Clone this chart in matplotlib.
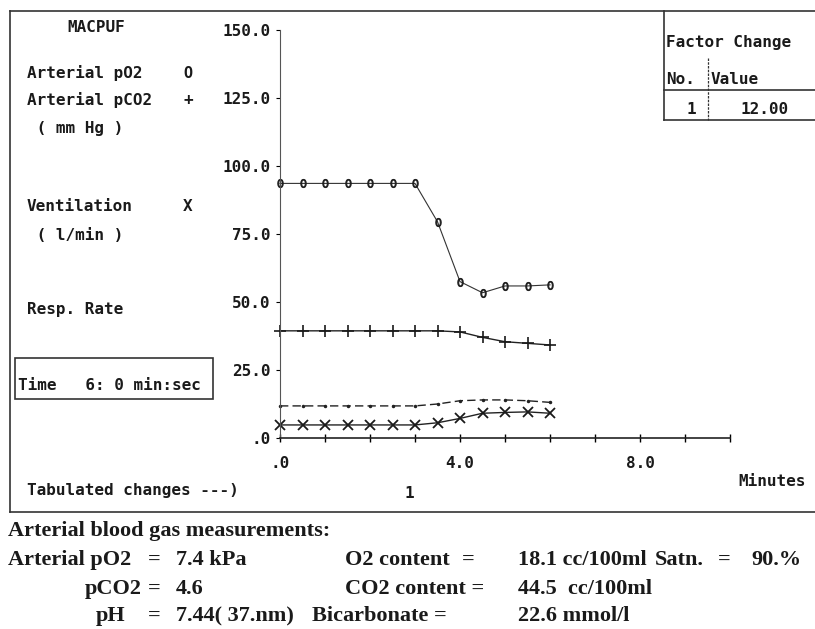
import matplotlib
matplotlib.use('Agg')
import matplotlib.pyplot as plt
from matplotlib.lines import Line2D
from matplotlib.patches import Rectangle

# simulation output, one sample every half minute
minutes = [0.0, 0.5, 1.0, 1.5, 2.0, 2.5, 3.0, 3.5, 4.0, 4.5, 5.0, 5.5, 6.0]
po2 = [93.6, 93.6, 93.6, 93.6, 93.6, 93.6, 93.6, 79.5, 57.5, 53.4, 55.9, 55.9, 56.3]
pco2 = [39.4, 39.4, 39.4, 39.4, 39.4, 39.4, 39.4, 39.4, 39.0, 37.0, 35.4, 34.8, 34.2]
resp_rate = [11.8, 11.8, 11.8, 11.8, 11.8, 11.8, 11.8, 12.5, 13.7, 14.0, 14.0, 13.7, 13.1]
ventilation = [4.8, 4.8, 4.8, 4.8, 4.8, 4.8, 4.8, 5.6, 7.2, 9.1, 9.4, 9.6, 9.1]

y_ticks = [0, 25, 50, 75, 100, 125, 150]
y_tick_labels = ['.0', '25.0', '50.0', '75.0', '100.0', '125.0', '150.0']
x_ticks = [0, 4, 8]
x_tick_labels = ['.0', '4.0', '8.0']

W, H = 815, 629
MONO = 'DejaVu Sans Mono'
NARROW = ['Liberation Serif', 'DejaVu Serif']
INK = '#1a1a1a'

fig = plt.figure(figsize=(W / 100, H / 100), dpi=100)


def fx(x):
    return x / W


def fy(y):
    return 1 - y / H


def label(x, y, s, **kw):
    opts = dict(family=MONO, fontweight='bold', fontsize=11.5, color=INK, va='center', ha='left')
    opts.update(kw)
    fig.text(fx(x), fy(y), s, **opts)


def line(x0, y0, x1, y1, **kw):
    opts = dict(color='#333333', lw=1.2)
    opts.update(kw)
    fig.add_artist(Line2D([fx(x0), fx(x1)], [fy(y0), fy(y1)], transform=fig.transFigure, **opts))


# outer frame of the screen dump (right side runs off the page)
line(10, 11, 815, 11)
line(10, 11, 10, 512)
line(10, 512, 815, 512)

# plotting area
ax = fig.add_axes([fx(280), fy(438), fx(730) - fx(280), fy(30) - fy(438)])
ax.set_xlim(0, 10)
ax.set_ylim(0, 150)
for s in ['top', 'right']:
    ax.spines[s].set_visible(False)
ax.spines['left'].set_linestyle((0, (2, 1)))
ax.spines['left'].set_color('#555555')
ax.spines['left'].set_linewidth(0.8)
ax.spines['bottom'].set_color('#222222')
ax.spines['bottom'].set_linewidth(1.2)
ax.patch.set_alpha(0)

ax.set_yticks(y_ticks)
ax.set_yticklabels(y_tick_labels, family=MONO, fontweight='bold', fontsize=11.5, color=INK)
ax.set_xticks(x_ticks)
ax.set_xticklabels(x_tick_labels, family=MONO, fontweight='bold', fontsize=11.5, color=INK)
ax.set_xticks(range(0, 11), minor=True)
ax.tick_params(axis='y', length=3, width=0.8, direction='out', pad=4)
ax.tick_params(axis='x', which='both', length=6, width=1.0, direction='inout', pad=10)

ax.plot(minutes, po2, color='#333333', lw=0.8, marker='$0$', ms=6, mec=INK, mew=0.6, clip_on=False)
ax.plot(minutes, pco2, color='#222222', lw=1.0, marker='+', ms=8, mew=1.2, mec=INK, clip_on=False)
ax.plot(minutes, resp_rate, color='#222222', lw=1.0, ls=(0, (6, 3)), marker='.', ms=3, clip_on=False)
ax.plot(minutes, ventilation, color='#222222', lw=1.0, marker='x', ms=6.5, mew=1.3, mec=INK, clip_on=False)

# left legend column
label(67, 28, 'MACPUF')
label(27, 73, 'Arterial pO2')
label(183, 73, 'O', fontsize=11)
label(27, 100, 'Arterial pCO2')
label(183, 100, '+')
label(27, 128, ' ( mm Hg )')
label(27, 207, 'Ventilation')
label(183, 207, 'X')
label(27, 236, ' ( l/min )')
label(27, 310, 'Resp. Rate')

fig.add_artist(Rectangle((fx(15), fy(399)), fx(213) - fx(15), fy(358) - fy(399),
                         transform=fig.transFigure, fill=False, ec='#333333', lw=1.2))
label(18, 385, 'Time   6: 0 min:sec')

label(27, 491, 'Tabulated changes ---)')
label(404, 493, '1')
label(738, 481, 'Minutes')

# factor change table, top right
line(664, 11, 664, 120)
line(664, 90, 815, 90)
line(664, 120, 815, 120)
line(708, 58, 708, 120, ls=(0, (2, 1)), lw=0.9)
label(666, 42, 'Factor Change')
label(666, 80, 'No.')
label(711, 80, 'Value')
label(687, 110, '1')
label(741, 110, '12.00')

# blood gas read-out under the frame
def gas(x, y, s):
    fig.text(fx(x), fy(y), s, family=NARROW, fontweight='bold', fontsize=16,
             color=INK, va='center', ha='left')


gas(8, 531, 'Arterial blood gas measurements:')
gas(8, 560, 'Arterial pO2')
gas(148, 560, '=')
gas(176, 560, '7.4 kPa')
gas(345, 560, 'O2 content')
gas(462, 560, '=')
gas(518, 560, '18.1 cc/100ml')
gas(655, 560, 'Satn.')
gas(718, 560, '=')
gas(751, 560, '90.%')
gas(85, 589, 'pCO2')
gas(148, 589, '=')
gas(176, 589, '4.6')
gas(345, 589, 'CO2 content =')
gas(518, 589, '44.5  cc/100ml')
gas(96, 616, 'pH')
gas(148, 616, '=')
gas(176, 616, '7.44( 37.nm)')
gas(312, 616, 'Bicarbonate =')
gas(518, 616, '22.6 mmol/l')

fig.savefig('out.png', dpi=100)
